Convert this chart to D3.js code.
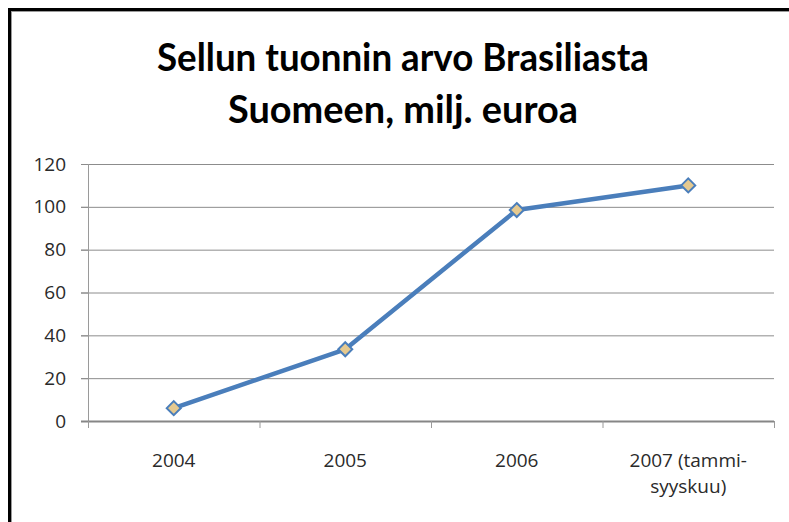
<!DOCTYPE html>
<html>
<head>
<meta charset="utf-8">
<script src="https://cdn.jsdelivr.net/npm/d3@7"></script>
<style>
  html, body { margin: 0; padding: 0; background: #fff; }
  #chart { width: 789px; height: 522px; }
</style>
</head>
<body>
<div id="chart"></div>
<script>
// Datos del gráfico
const categories = ['2004', '2005', '2006', '2007 (tammi-|syyskuu)'];
const values = [6, 33.5, 98.5, 110];
const yTicks = [0, 20, 40, 60, 80, 100, 120];
const titleLines = ['Sellun tuonnin arvo Brasiliasta', 'Suomeen, milj. euroa'];

const width = 789, height = 522;
const margin = { top: 164, right: 15, bottom: 101, left: 88 };
const plotW = width - margin.left - margin.right;
const plotH = height - margin.top - margin.bottom;

const svg = d3.select('#chart').append('svg')
    .attr('width', width)
    .attr('height', height);

// Marco
svg.append('rect').attr('x', 8).attr('y', 8).attr('width', width).attr('height', 3).attr('fill', '#000');
svg.append('rect').attr('x', 8).attr('y', 11).attr('width', width).attr('height', 1).attr('fill', '#9a9a9a');
svg.append('rect').attr('x', 8).attr('y', 8).attr('width', 3).attr('height', height).attr('fill', '#000');
svg.append('rect').attr('x', 11).attr('y', 11).attr('width', 1).attr('height', height).attr('fill', '#9a9a9a');

// Título
const titleWidths = [492, 350];
const titleY = [71, 123];
titleLines.forEach((t, i) => {
    svg.append('text')
        .attr('x', 403)
        .attr('y', titleY[i])
        .attr('text-anchor', 'middle')
        .attr('textLength', titleWidths[i])
        .attr('lengthAdjust', 'spacingAndGlyphs')
        .style('font-family', 'Lato, "Open Sans", sans-serif')
        .style('font-weight', 'bold')
        .style('font-size', '39px')
        .style('fill', '#000')
        .text(t);
});

const g = svg.append('g').attr('transform', `translate(${margin.left},${margin.top})`);

const x = d3.scaleBand().domain(categories).range([0, plotW]).padding(0);
const y = d3.scaleLinear().domain([0, 120]).range([plotH, 0]);

// Líneas de cuadrícula
g.selectAll('.grid')
    .data(yTicks.filter(d => d > 0))
    .enter().append('line')
    .attr('x1', -7).attr('x2', plotW)
    .attr('y1', d => y(d) + 0.5).attr('y2', d => y(d) + 0.5)
    .attr('stroke', '#8c8c8c').attr('stroke-width', 1);

// Eje Y
const yAxis = d3.axisLeft(y).tickValues(yTicks).tickSize(7).tickPadding(15);
const yG = g.append('g').call(yAxis);
yG.select('.domain').attr('stroke', '#9a9a9a').attr('d', `M0.5,${y(120)}V${plotH + 7}`);
yG.selectAll('.tick line').attr('stroke', '#8c8c8c');
yG.selectAll('text')
    .style('font-family', '"Open Sans", sans-serif')
    .style('font-size', '19px')
    .style('fill', '#2a2a2a');

// Eje X
const xG = g.append('g').attr('transform', `translate(0,${plotH})`);
xG.append('line')
    .attr('x1', -7).attr('x2', plotW)
    .attr('y1', 0.5).attr('y2', 0.5)
    .attr('stroke', '#868686').attr('stroke-width', 2);
const bounds = categories.map(c => x(c)).concat([plotW]);
xG.selectAll('.xtick')
    .data(bounds)
    .enter().append('line')
    .attr('x1', d => d + 0.5).attr('x2', d => d + 0.5)
    .attr('y1', 0).attr('y2', 7)
    .attr('stroke', '#9a9a9a');
categories.forEach(c => {
    const lines = c.split('|');
    const t = xG.append('text')
        .attr('x', x(c) + x.bandwidth() / 2)
        .attr('y', 46)
        .attr('text-anchor', 'middle')
        .style('font-family', '"Open Sans", sans-serif')
        .style('font-size', '19px')
        .style('fill', '#2a2a2a');
    lines.forEach((l, i) => {
        t.append('tspan')
            .attr('x', x(c) + x.bandwidth() / 2)
            .attr('dy', i === 0 ? 0 : 26)
            .text(l);
    });
});

// Serie
const data = categories.map((c, i) => ({ cat: c, value: values[i] }));
const line = d3.line()
    .x(d => x(d.cat) + x.bandwidth() / 2)
    .y(d => y(d.value));

g.append('path')
    .datum(data)
    .attr('d', line)
    .attr('fill', 'none')
    .attr('stroke', '#4a7ebb')
    .attr('stroke-width', 4.5)
    .attr('stroke-linejoin', 'round');

g.selectAll('.marker')
    .data(data)
    .enter().append('path')
    .attr('d', d3.symbol().type(d3.symbolDiamond2).size(125))
    .attr('transform', d => `translate(${x(d.cat) + x.bandwidth() / 2},${y(d.value)})`)
    .attr('fill', '#e5c98f')
    .attr('stroke', '#4a7ebb')
    .attr('stroke-width', 2);
</script>
</body>
</html>
